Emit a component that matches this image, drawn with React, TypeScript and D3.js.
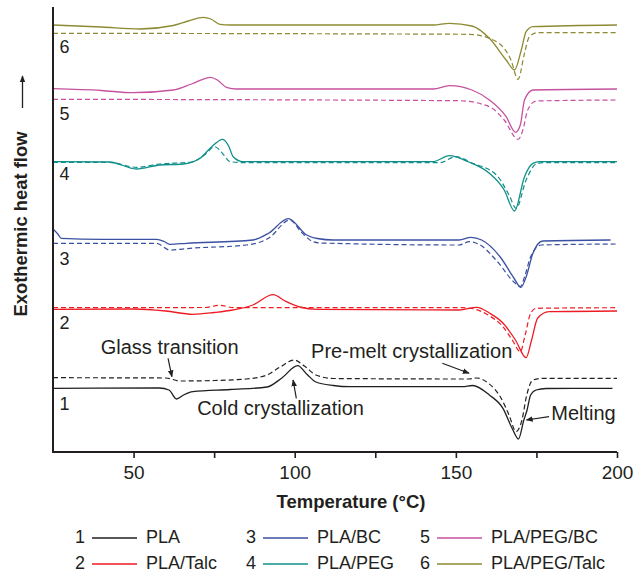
import React, { useEffect, useRef } from 'react'
import * as d3 from 'd3'

// DSC heating curves, heat flow in arbitrary units (exo up), temperature in °C
// solid = first heating, dashed = second heating
const plaSolid: [number, number][] = [
  [25, 63.7], [58, 64], [61, 62], [63.3, 53], [65.5, 57], [68.4, 60.3], [80, 62.5], [91.4, 65],
  [96, 74], [100.9, 86.3], [104, 77], [106.6, 70], [112, 66.5], [117, 65.3], [152, 65.3],
  [155.2, 66.5], [160.4, 57], [164.6, 43.7], [167.7, 22], [169.4, 13], [171.1, 32], [172.1, 42],
  [173.2, 57], [174.9, 62], [178, 63.5], [198.6, 63.7]
]
const plaDash: [number, number][] = [
  [25, 74.3], [60, 74], [64.3, 71], [75, 71.5], [85, 73], [91.4, 77], [95.5, 85], [99.8, 92],
  [103, 86], [106.6, 77], [112, 73.5], [154, 73], [156.5, 74], [160, 69], [164, 54], [166.5, 37],
  [168.7, 20.3], [170.5, 32], [172, 57], [173.9, 72], [177, 73.7], [200, 73.7]
]
const talcSolid: [number, number][] = [
  [25, 142.7], [50, 143], [60, 141], [68.4, 137.7], [75, 139.5], [80.8, 142], [87, 147],
  [93.3, 157.3], [97, 151], [101.6, 145], [107, 142.7], [151, 142], [156.5, 144.7], [160.4, 139],
  [164.6, 129], [168.5, 112], [171.8, 94.3], [173.5, 112], [175.4, 134], [178.9, 140.3], [200, 141]
]
const talcDash: [number, number][] = [
  [25, 144.3], [72, 144.5], [76.8, 146.7], [81, 144.3], [152, 144.3], [155, 143.5], [160, 137],
  [164.6, 125.3], [167.5, 112], [170, 100.3], [171.5, 117], [173.2, 138.7], [175, 143.7], [200, 144.3]
]
const bcSolid: [number, number][] = [
  [25, 223], [26.5, 218], [27.6, 213.7], [40, 212.7], [57.1, 212.7], [59.5, 210.5], [61.2, 207.7],
  [66.4, 208.7], [87, 212], [92, 219], [98, 233.3], [103.7, 217], [107, 213.5], [112, 212],
  [151, 212], [154.7, 214.7], [158, 212], [164, 194], [168, 174], [170.2, 164.7], [172, 177],
  [173.9, 198.7], [177, 211], [198, 212]
]
const bcDash: [number, number][] = [
  [25, 208.7], [57.1, 208.7], [61.2, 202], [67.5, 203.7], [85, 207], [92, 214], [98.5, 232],
  [102, 220], [105.7, 210.3], [108, 209], [151, 207], [154.2, 210.3], [157, 208], [163, 190],
  [168, 170], [170, 165.3], [171.5, 177], [173.2, 195.3], [176.5, 207], [200, 208]
]
const pegSolid: [number, number][] = [
  [25, 290.3], [42.6, 290], [50.9, 283], [58.1, 287], [65.4, 288], [70.6, 293.7], [74.5, 306],
  [77.6, 312.7], [79.5, 306], [80.9, 295.3], [84, 290.3], [142.8, 290.3], [148, 296.3], [154, 290],
  [160.4, 278.7], [165, 262], [168.2, 241], [171.3, 275.3], [173.9, 288.7], [176, 290.3], [200, 290.3]
]
const pegDash: [number, number][] = [
  [25, 289.7], [42.6, 289.5], [50.9, 284.7], [58, 288], [68, 290], [72, 297], [75.2, 305.3],
  [78, 297], [79.9, 290.3], [85, 289.3], [145, 289.3], [150, 295.3], [155, 289], [162.6, 277],
  [166.5, 257], [168.7, 243.7], [171.8, 272], [174.9, 288], [177, 289.3], [200, 289.3]
]
const pegBcSolid: [number, number][] = [
  [25, 363.3], [40, 361.5], [49.8, 359.3], [62.3, 362], [68, 368], [73.9, 374.7], [76, 372],
  [78.8, 364.7], [82, 363], [143, 363], [148, 366.3], [155, 362], [160.4, 352], [165.6, 335.3],
  [168.5, 319.7], [170, 327], [171.3, 352], [173.9, 362], [200, 363]
]
const pegBcDash: [number, number][] = [
  [25, 352.7], [151, 351.3], [160.4, 345.3], [165, 332], [169.3, 312.7], [170.8, 322],
  [172.3, 342], [174.9, 351], [200, 352]
]
const pegTalcSolid: [number, number][] = [
  [25, 427], [40, 425], [52, 423], [62.3, 426.5], [67, 431], [71.6, 434.7], [74, 433],
  [76.8, 427.7], [80, 427], [143, 427], [148, 428.7], [155, 426], [160.4, 413.7], [165.6, 392],
  [168.2, 382], [170.3, 402], [171.8, 420.3], [173.9, 425.3], [200, 427]
]
const pegTalcDash: [number, number][] = [
  [25, 418.7], [154.2, 417.7], [162.6, 410.3], [167.1, 392], [169.3, 372.7], [171.3, 398.7],
  [172.8, 415.3], [175.4, 419.3], [200, 419.3]
]

const sampleNums = ['1', '2', '3', '4', '5', '6']
const sampleNames = ['PLA', 'PLA/Talc', 'PLA/BC', 'PLA/PEG', 'PLA/PEG/BC', 'PLA/PEG/Talc']
const sampleColors = ['#231f20', '#ed1c24', '#3a50a2', '#0f8f88', '#c6519f', '#8c8a32']
const solidCurves = [plaSolid, talcSolid, bcSolid, pegSolid, pegBcSolid, pegTalcSolid]
const dashCurves = [plaDash, talcDash, bcDash, pegDash, pegBcDash, pegTalcDash]
// level (heat flow units) where each curve number sits
const numLevels = [47, 128, 192, 277, 337, 404]

const xTicks = [50, 75, 100, 125, 150, 175, 200]

// annotations: text, text position [T, flow], arrow from -> to [T, flow]
const notes = [
  { text: 'Glass transition', at: [61.2, 103], from: [60.7, 93.7], to: [61.9, 75.3] },
  { text: 'Cold crystallization', at: [95.6, 42], from: [100.5, 53.7], to: [99.5, 72] },
  { text: 'Pre-melt crystallization', at: [136.3, 99], from: [145.8, 88.7], to: [154.1, 78.7] },
  { text: 'Melting', at: [189.6, 37], from: [178.9, 35.3], to: [171.9, 32] },
]

const FONT = "'Myriad Pro', 'Liberation Sans', Arial, sans-serif"

const App = () => {
  const ref = useRef<SVGSVGElement>(null)

  useEffect(() => {
    const width = 636
    const height = 573
    const margin = { top: 7, right: 19, bottom: 121, left: 53 }

    const svg = d3.select(ref.current)
    svg.selectAll('*').remove()

    const x = d3.scaleLinear().domain([25, 200]).range([margin.left, width - margin.right])
    const y = d3.scaleLinear().domain([0, 445]).range([height - margin.bottom, margin.top])

    svg.append('defs').append('marker')
      .attr('id', 'head')
      .attr('viewBox', '0 0 10 10')
      .attr('refX', 9).attr('refY', 5)
      .attr('markerWidth', 7).attr('markerHeight', 7)
      .attr('markerUnits', 'userSpaceOnUse')
      .attr('orient', 'auto')
      .append('path').attr('d', 'M0,1 L10,5 L0,9 z').attr('fill', '#231f20')

    const line = d3.line<[number, number]>()
      .x(d => x(d[0]))
      .y(d => y(d[1]))
      .curve(d3.curveMonotoneX)

    // curves
    solidCurves.forEach((c, i) => {
      svg.append('path').datum(c)
        .attr('d', line)
        .attr('fill', 'none')
        .attr('stroke', sampleColors[i])
        .attr('stroke-width', 1.3)
      svg.append('path').datum(dashCurves[i])
        .attr('d', line)
        .attr('fill', 'none')
        .attr('stroke', sampleColors[i])
        .attr('stroke-width', 1.2)
        .attr('stroke-dasharray', '5,3')
    })

    // curve numbers
    svg.append('g').selectAll('text').data(sampleNums)
      .join('text')
      .attr('x', x(27))
      .attr('y', (d, i) => y(numLevels[i]))
      .attr('font-family', FONT)
      .attr('font-size', 18)
      .attr('fill', '#231f20')
      .attr('dominant-baseline', 'middle')
      .text(d => d)

    // x axis
    const gx = svg.append('g')
      .attr('transform', `translate(0,${y(0)})`)
      .call(d3.axisBottom(x).tickValues(xTicks).tickSize(6).tickSizeOuter(0)
        .tickFormat(d => (+d % 50 === 0 ? String(d) : '')))
    gx.select('.domain').attr('stroke', '#231f20').attr('stroke-width', 2)
      .attr('d', `M${margin.left - 1},0H${x(200)}`)
    gx.selectAll('.tick line').attr('stroke', '#231f20').attr('stroke-width', 1.6)
    gx.selectAll('.tick text')
      .attr('font-family', FONT).attr('font-size', 19).attr('fill', '#231f20').attr('dy', '0.95em')

    // left axis (no ticks)
    svg.append('line')
      .attr('x1', margin.left).attr('x2', margin.left)
      .attr('y1', margin.top).attr('y2', y(0))
      .attr('stroke', '#231f20').attr('stroke-width', 2)

    svg.append('text')
      .attr('x', (x(25) + x(200)) / 2 + 16)
      .attr('y', 508)
      .attr('text-anchor', 'middle')
      .attr('font-family', FONT).attr('font-size', 18.5).attr('font-weight', 'bold')
      .attr('fill', '#231f20')
      .text('Temperature (°C)')

    svg.append('text')
      .attr('transform', 'translate(27,224) rotate(-90)')
      .attr('text-anchor', 'middle')
      .attr('font-family', FONT).attr('font-size', 18.4).attr('font-weight', 'bold')
      .attr('fill', '#231f20')
      .text('Exothermic heat flow')

    svg.append('line')
      .attr('x1', 22.5).attr('x2', 22.5).attr('y1', 108).attr('y2', 76)
      .attr('stroke', '#231f20').attr('stroke-width', 1.3)
      .attr('marker-end', 'url(#head)')

    // annotations
    notes.forEach(n => {
      svg.append('text')
        .attr('x', x(n.at[0])).attr('y', y(n.at[1]))
        .attr('text-anchor', 'middle')
        .attr('dominant-baseline', 'middle')
        .attr('font-family', FONT).attr('font-size', 20)
        .attr('fill', '#231f20')
        .text(n.text)
      svg.append('line')
        .attr('x1', x(n.from[0])).attr('y1', y(n.from[1]))
        .attr('x2', x(n.to[0])).attr('y2', y(n.to[1]))
        .attr('stroke', '#231f20').attr('stroke-width', 1.2)
        .attr('marker-end', 'url(#head)')
    })

    // legend
    const cols = [75, 246, 420]
    const rows = [538, 564]
    const items = svg.append('g').selectAll('g').data(sampleNames)
      .join('g')
      .attr('transform', (d, i) => `translate(${cols[Math.floor(i / 2)]},${rows[i % 2]})`)
    items.append('text')
      .attr('x', 0).attr('dominant-baseline', 'middle')
      .attr('font-family', FONT).attr('font-size', 18).attr('fill', '#231f20')
      .text((d, i) => sampleNums[i])
    items.append('line')
      .attr('x1', 17).attr('x2', 62).attr('y1', 0).attr('y2', 0)
      .attr('stroke', (d, i) => sampleColors[i]).attr('stroke-width', 1.3)
    items.append('text')
      .attr('x', 71).attr('dominant-baseline', 'middle')
      .attr('font-family', FONT).attr('font-size', 18).attr('fill', '#231f20')
      .text(d => d)
  }, [])

  return (
    <div style={{ position: 'absolute', left: 0, top: 0 }}>
      <svg ref={ref} width={636} height={573} style={{ display: 'block', background: '#fff' }} />
    </div>
  )
}

export default App
